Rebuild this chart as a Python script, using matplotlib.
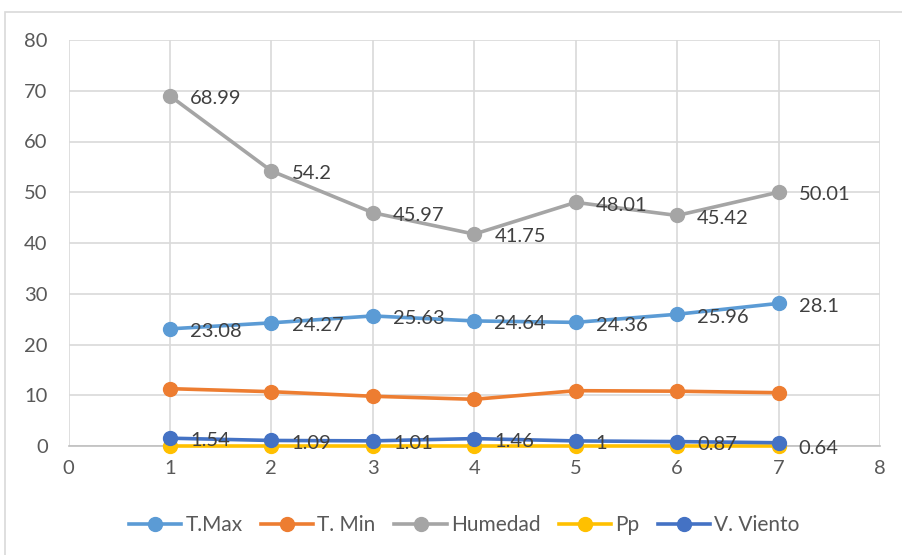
import matplotlib
matplotlib.use("Agg")
import matplotlib.pyplot as plt
from matplotlib.patches import Rectangle

plt.rcParams['font.family'] = ['Lato', 'DejaVu Sans']

x = [1, 2, 3, 4, 5, 6, 7]
t_max = [23.08, 24.27, 25.63, 24.64, 24.36, 25.96, 28.1]
t_min = [11.3, 10.7, 9.8, 9.2, 10.9, 10.8, 10.5]
humedad = [68.99, 54.2, 45.97, 41.75, 48.01, 45.42, 50.01]
pp = [0, 0, 0, 0, 0, 0, 0]
viento = [1.54, 1.09, 1.01, 1.46, 1, 0.87, 0.64]

tmax_labels = ["23.08", "24.27", "25.63", "24.64", "24.36", "25.96", "28.1"]
hum_labels = ["68.99", "54.2", "45.97", "41.75", "48.01", "45.42", "50.01"]
vie_labels = ["1.54", "1.09", "1.01", "1.46", "1", "0.87", "0.64"]

names = ["T.Max", "T. Min", "Humedad", "Pp", "V. Viento"]
colors = ["#5B9BD5", "#ED7D31", "#A5A5A5", "#FFC000", "#4472C4"]

fig = plt.figure(figsize=(9.03, 5.55), dpi=100)
fig.patch.set_facecolor("white")
# outer chart border
fig.patches.append(Rectangle((5 / 903, -0.05), 1.1, 1 - 12 / 555 + 0.05,
                             transform=fig.transFigure, fill=False,
                             edgecolor="#D9D9D9", linewidth=1.2))

ax = fig.add_axes([68.5 / 903, 1 - 446 / 555, (880 - 68.5) / 903, (446 - 40) / 555])

series = [t_max, t_min, humedad, pp, viento]
order = [2, 0, 1, 3, 4]
handles = [None] * 5
for i in order:
    h, = ax.plot(x, series[i], color=colors[i], linewidth=2.6, marker='o',
                 markersize=10, label=names[i], zorder=3 + i * 0.1, clip_on=False)
    handles[i] = h

txt_color = "#404040"
fs = 14.5
for vals, labs in [(t_max, tmax_labels), (humedad, hum_labels), (viento, vie_labels)]:
    for xi, v, lab in zip(x, vals, labs):
        dy = -4 if lab == "0.64" else -2
        ax.annotate(lab, (xi, v), xytext=(14.5, dy), textcoords='offset points',
                    ha='left', va='center', fontsize=fs, color=txt_color, zorder=10)

ax.set_xlim(0, 8)
ax.set_ylim(0, 80)
ax.set_xticks(range(0, 9))
ax.set_yticks(range(0, 81, 10))
ax.grid(True, color="#D9D9D9", linewidth=1.2)
ax.set_axisbelow(True)
for s in ['top', 'right', 'left']:
    ax.spines[s].set_visible(False)
ax.spines['bottom'].set_color("#BFBFBF")
ax.spines['bottom'].set_linewidth(1.2)
ax.tick_params(length=0, labelsize=fs, labelcolor="#595959", pad=10)
ax.tick_params(axis='y', pad=15)

fig.legend(handles=handles, labels=names, loc='center', bbox_to_anchor=(464.5 / 903, 1 - 525 / 555),
           ncol=5, frameon=False, fontsize=15, handlelength=2.5, columnspacing=0.9,
           handletextpad=0.2, labelcolor="#595959")

fig.savefig("out.png", dpi=100)
